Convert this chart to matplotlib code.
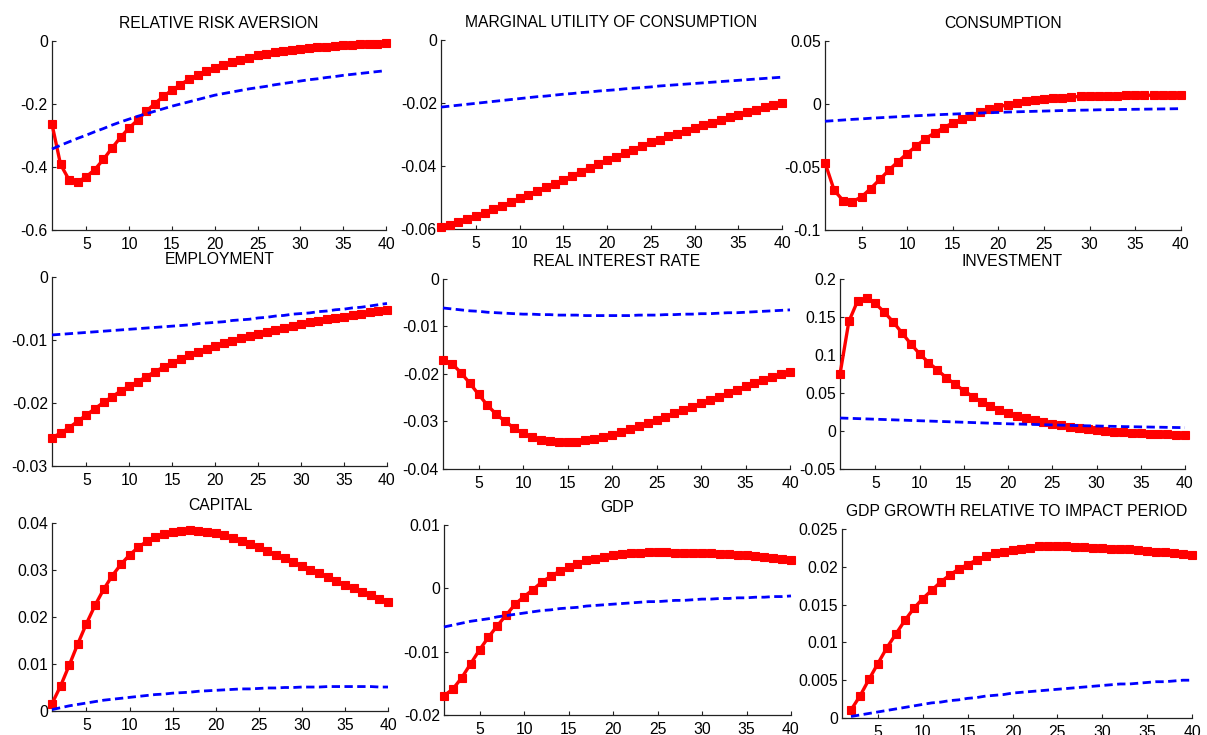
import numpy as np
import matplotlib
matplotlib.use("Agg")
import matplotlib.pyplot as plt
from matplotlib.ticker import FuncFormatter

plt.rcParams['font.family'] = ['Liberation Sans', 'DejaVu Sans']
plt.rcParams['axes.unicode_minus'] = False
plt.rcParams['lines.scale_dashes'] = False

periods = list(range(1, 41))
periods_growth = list(range(2, 41))

titles = ["RELATIVE RISK AVERSION", "MARGINAL UTILITY OF CONSUMPTION", "CONSUMPTION",
          "EMPLOYMENT", "REAL INTEREST RATE", "INVESTMENT",
          "CAPITAL", "GDP", "GDP GROWTH RELATIVE TO IMPACT PERIOD"]

rra_red = [-0.264, -0.392, -0.441, -0.447, -0.431, -0.408, -0.376, -0.340, -0.306, -0.276,
           -0.251, -0.223, -0.199, -0.176, -0.156, -0.139, -0.121, -0.109, -0.096, -0.087,
           -0.077, -0.068, -0.060, -0.053, -0.045, -0.040, -0.036, -0.032, -0.027, -0.024,
           -0.022, -0.020, -0.018, -0.016, -0.014, -0.012, -0.011, -0.0095, -0.0085, -0.006]
rra_blue = [-0.343, -0.331, -0.320, -0.309, -0.299, -0.288, -0.278, -0.267, -0.257, -0.248,
            -0.239, -0.231, -0.223, -0.215, -0.207, -0.200, -0.193, -0.186, -0.179, -0.172,
            -0.167, -0.162, -0.157, -0.152, -0.148, -0.144, -0.139, -0.135, -0.131, -0.127,
            -0.123, -0.120, -0.116, -0.113, -0.109, -0.106, -0.103, -0.100, -0.097, -0.094]

muc_red = [-0.0595, -0.0587, -0.0578, -0.0569, -0.0560, -0.0549, -0.0538, -0.0526, -0.0515, -0.0503,
           -0.0491, -0.0479, -0.0467, -0.0456, -0.0444, -0.0431, -0.0418, -0.0406, -0.0394, -0.0382,
           -0.0371, -0.0359, -0.0348, -0.0336, -0.0325, -0.0316, -0.0306, -0.0297, -0.0288, -0.0279,
           -0.0271, -0.0263, -0.0254, -0.0246, -0.0238, -0.0230, -0.0222, -0.0214, -0.0207, -0.0199]
muc_blue = [-0.0213, -0.0210, -0.0207, -0.0204, -0.0201, -0.0198, -0.0195, -0.0192, -0.0189, -0.0186,
            -0.0183, -0.0180, -0.0178, -0.0175, -0.0172, -0.0170, -0.0167, -0.0165, -0.0162, -0.0160,
            -0.0158, -0.0155, -0.0153, -0.0151, -0.0149, -0.0146, -0.0144, -0.0142, -0.0140, -0.0138,
            -0.0136, -0.0134, -0.0132, -0.0130, -0.0128, -0.0126, -0.0124, -0.0122, -0.0120, -0.0118]

cons_red = [-0.0465, -0.0684, -0.0768, -0.0776, -0.0737, -0.0671, -0.0599, -0.0525, -0.0457, -0.0393,
            -0.0333, -0.0275, -0.0230, -0.0187, -0.0151, -0.0119, -0.0092, -0.0066, -0.0042, -0.0024,
            -0.0005, 0.0008, 0.0021, 0.0032, 0.0040, 0.0045, 0.0050, 0.0055, 0.0060, 0.0063,
            0.0065, 0.0066, 0.0067, 0.0068, 0.0069, 0.0069, 0.0070, 0.0070, 0.0071, 0.0071]
cons_blue = [-0.0137, -0.0132, -0.0127, -0.0122, -0.0118, -0.0113, -0.0109, -0.0105, -0.0101, -0.0097,
             -0.0093, -0.0090, -0.0086, -0.0083, -0.0080, -0.0077, -0.0074, -0.0072, -0.0069, -0.0067,
             -0.0064, -0.0062, -0.0060, -0.0058, -0.0056, -0.0054, -0.0052, -0.0051, -0.0049, -0.0048,
             -0.0046, -0.0045, -0.0044, -0.0043, -0.0042, -0.0041, -0.0040, -0.0039, -0.0038, -0.0037]

emp_red = [-0.0255, -0.0248, -0.0239, -0.0229, -0.0219, -0.0209, -0.0199, -0.0190, -0.0181, -0.0173,
           -0.0166, -0.0158, -0.0150, -0.0143, -0.0136, -0.0130, -0.0124, -0.0119, -0.0114, -0.0109,
           -0.0105, -0.0101, -0.0097, -0.0093, -0.0090, -0.0087, -0.0084, -0.0081, -0.0078, -0.0075,
           -0.0072, -0.0070, -0.0067, -0.0065, -0.0063, -0.0061, -0.0058, -0.0056, -0.0054, -0.0052]
emp_blue = [-0.0092, -0.0091, -0.0090, -0.0089, -0.0088, -0.0087, -0.0086, -0.0085, -0.0084, -0.0083,
            -0.0082, -0.0081, -0.0080, -0.0079, -0.0078, -0.0077, -0.0076, -0.0074, -0.0073, -0.0072,
            -0.0071, -0.0069, -0.0068, -0.0067, -0.0065, -0.0064, -0.0062, -0.0061, -0.0059, -0.0058,
            -0.0057, -0.0055, -0.0054, -0.0052, -0.0051, -0.0049, -0.0048, -0.0046, -0.0044, -0.0042]

rate_red = [-0.0170, -0.0178, -0.0197, -0.0219, -0.0243, -0.0266, -0.0285, -0.0300, -0.0314, -0.0325,
            -0.0333, -0.0338, -0.0342, -0.0344, -0.0344, -0.0343, -0.0340, -0.0337, -0.0333, -0.0328,
            -0.0323, -0.0316, -0.0310, -0.0304, -0.0297, -0.0290, -0.0283, -0.0276, -0.0269, -0.0262,
            -0.0255, -0.0248, -0.0240, -0.0233, -0.0226, -0.0219, -0.0212, -0.0207, -0.0200, -0.0195]
rate_blue = [-0.0061, -0.0063, -0.0065, -0.0067, -0.0068, -0.0070, -0.0071, -0.0072, -0.0073, -0.0074,
             -0.0074, -0.0075, -0.0075, -0.0076, -0.0076, -0.0076, -0.0077, -0.0077, -0.0077, -0.0077,
             -0.0077, -0.0077, -0.0076, -0.0076, -0.0076, -0.0075, -0.0075, -0.0074, -0.0074, -0.0073,
             -0.0073, -0.0072, -0.0071, -0.0071, -0.0070, -0.0069, -0.0068, -0.0067, -0.0066, -0.0065]

inv_red = [0.0747, 0.1441, 0.1714, 0.1749, 0.1678, 0.1564, 0.1437, 0.1292, 0.1147, 0.1015,
           0.0901, 0.0804, 0.0703, 0.0615, 0.0532, 0.0453, 0.0387, 0.0330, 0.0281, 0.0242,
           0.0202, 0.0171, 0.0145, 0.0119, 0.0092, 0.0075, 0.0057, 0.0040, 0.0022, 0.0009,
           0.0000, -0.0009, -0.0018, -0.0026, -0.0031, -0.0035, -0.0040, -0.0044, -0.0048, -0.0053]
inv_blue = [0.0171, 0.0167, 0.0163, 0.0159, 0.0155, 0.0151, 0.0147, 0.0143, 0.0139, 0.0135,
            0.0131, 0.0127, 0.0123, 0.0119, 0.0115, 0.0111, 0.0107, 0.0103, 0.0099, 0.0095,
            0.0092, 0.0089, 0.0086, 0.0083, 0.0080, 0.0077, 0.0074, 0.0071, 0.0068, 0.0066,
            0.0063, 0.0061, 0.0058, 0.0056, 0.0054, 0.0052, 0.0050, 0.0048, 0.0046, 0.0044]

cap_red = [0.00157, 0.00534, 0.00975, 0.0143, 0.0186, 0.0225, 0.0259, 0.0288, 0.0312, 0.0332,
           0.0348, 0.0361, 0.0370, 0.0377, 0.0381, 0.0384, 0.0385, 0.0384, 0.0381, 0.0378,
           0.0374, 0.0368, 0.0362, 0.0355, 0.0348, 0.0340, 0.0332, 0.0325, 0.0317, 0.0308,
           0.0300, 0.0293, 0.0285, 0.0277, 0.0269, 0.0261, 0.0254, 0.0247, 0.0239, 0.0232]
cap_blue = [0.0003, 0.0007, 0.0011, 0.0014, 0.0017, 0.0020, 0.0023, 0.0025, 0.0027, 0.0029,
            0.0031, 0.0033, 0.0035, 0.0036, 0.0038, 0.0039, 0.0040, 0.0042, 0.0043, 0.0044,
            0.0045, 0.0046, 0.0047, 0.0047, 0.0048, 0.0049, 0.0049, 0.0050, 0.0050, 0.0051,
            0.0051, 0.0051, 0.0052, 0.0052, 0.0052, 0.0052, 0.0052, 0.0052, 0.0051, 0.0051]

gdp_red = [-0.01695, -0.0159, -0.0141, -0.0119, -0.0097, -0.0077, -0.0059, -0.0042, -0.0025, -0.0013,
           -0.0002, 0.0010, 0.0019, 0.0027, 0.0033, 0.0039, 0.0044, 0.0047, 0.0050, 0.0052,
           0.0054, 0.0055, 0.0056, 0.0057, 0.0057, 0.0057, 0.0056, 0.0056, 0.0056, 0.0055,
           0.0055, 0.0054, 0.0054, 0.0053, 0.0052, 0.0051, 0.0049, 0.0048, 0.0046, 0.0044]
gdp_blue = [-0.0061, -0.0058, -0.0055, -0.0052, -0.0050, -0.0048, -0.0045, -0.0043, -0.0041, -0.0039,
            -0.0037, -0.0035, -0.0034, -0.0032, -0.0031, -0.0030, -0.0028, -0.0027, -0.0026, -0.0025,
            -0.0024, -0.0023, -0.0022, -0.0021, -0.0021, -0.0020, -0.0019, -0.0019, -0.0018, -0.0017,
            -0.0017, -0.0016, -0.0016, -0.0015, -0.0015, -0.0014, -0.0014, -0.0013, -0.0013, -0.0012]

growth_red = [0.00106, 0.0029, 0.0051, 0.0072, 0.0093, 0.0111, 0.0129, 0.0145, 0.0158,
              0.0169, 0.0180, 0.0189, 0.0197, 0.0203, 0.0209, 0.0214, 0.0218, 0.0220, 0.0222,
              0.0224, 0.0225, 0.0227, 0.0227, 0.0227, 0.0227, 0.0226, 0.0226, 0.0225, 0.0225,
              0.0224, 0.0224, 0.0223, 0.0222, 0.0221, 0.0220, 0.0219, 0.0218, 0.0217, 0.0215]
growth_blue = [0.0002, 0.0004, 0.0006, 0.0008, 0.0010, 0.0012, 0.0014, 0.0016, 0.0018,
               0.0020, 0.0021, 0.0023, 0.0024, 0.0026, 0.0027, 0.0029, 0.0030, 0.0031, 0.0033,
               0.0034, 0.0035, 0.0036, 0.0037, 0.0038, 0.0039, 0.0040, 0.0041, 0.0042, 0.0043,
               0.0044, 0.0045, 0.0045, 0.0046, 0.0047, 0.0048, 0.0048, 0.0049, 0.0050, 0.0050]

y_ticks = [
    [-0.6, -0.4, -0.2, 0],
    [-0.06, -0.04, -0.02, 0],
    [-0.1, -0.05, 0, 0.05],
    [-0.03, -0.02, -0.01, 0],
    [-0.04, -0.03, -0.02, -0.01, 0],
    [-0.05, 0, 0.05, 0.1, 0.15, 0.2],
    [0, 0.01, 0.02, 0.03, 0.04],
    [-0.02, -0.01, 0, 0.01],
    [0, 0.005, 0.01, 0.015, 0.02, 0.025],
]
x_ticks = [5, 10, 15, 20, 25, 30, 35, 40]

series = [
    (periods, rra_red, rra_blue),
    (periods, muc_red, muc_blue),
    (periods, cons_red, cons_blue),
    (periods, emp_red, emp_blue),
    (periods, rate_red, rate_blue),
    (periods, inv_red, inv_blue),
    (periods, cap_red, cap_blue),
    (periods, gdp_red, gdp_blue),
    (periods_growth, growth_red, growth_blue),
]

W, H = 1207, 735
# pixel boxes (left, top, right, bottom)
boxes = [
    (52, 41, 386, 230), (441, 40, 782, 229), (825, 41, 1181, 230),
    (52, 277, 387, 466), (443, 279, 790, 469), (840, 279, 1185, 469),
    (52, 523, 388, 711), (444, 525, 791, 715), (842, 529, 1192, 718),
]

fig = plt.figure(figsize=(W / 100, H / 100), dpi=100)
fs = 11.3
for i, (l, t, r, b) in enumerate(boxes):
    ax = fig.add_axes([l / W, 1 - b / H, (r - l) / W, (b - t) / H])
    x, red, blue = series[i]
    ax.plot(x, red, color='#ff0000', lw=2.4, marker='s', ms=5.2,
            markeredgewidth=0.8, zorder=3, clip_on=False)
    ax.plot(x, blue, color='#0000ff', lw=2.0, ls=(0, (6.0, 3.2)), zorder=4, clip_on=False)
    yt = y_ticks[i]
    ax.set_xlim(1, 40)
    ax.set_ylim(yt[0], yt[-1])
    ax.set_xticks(x_ticks)
    ax.set_yticks(yt)
    ax.yaxis.set_major_formatter(FuncFormatter(lambda v, p: '%g' % round(v, 6)))
    for s in ['top', 'right']:
        ax.spines[s].set_visible(False)
    for s in ['left', 'bottom']:
        ax.spines[s].set_linewidth(0.9)
        ax.spines[s].set_color('#222222')
    ax.tick_params(direction='in', length=3, width=0.8, labelsize=fs, colors='#222222',
                   labelcolor='black')
    ax.tick_params(axis='x', pad=5)
    ax.tick_params(axis='y', pad=3)
    ax.set_title(titles[i], fontsize=fs, pad=9.5)

fig.savefig('out.png', dpi=100)
